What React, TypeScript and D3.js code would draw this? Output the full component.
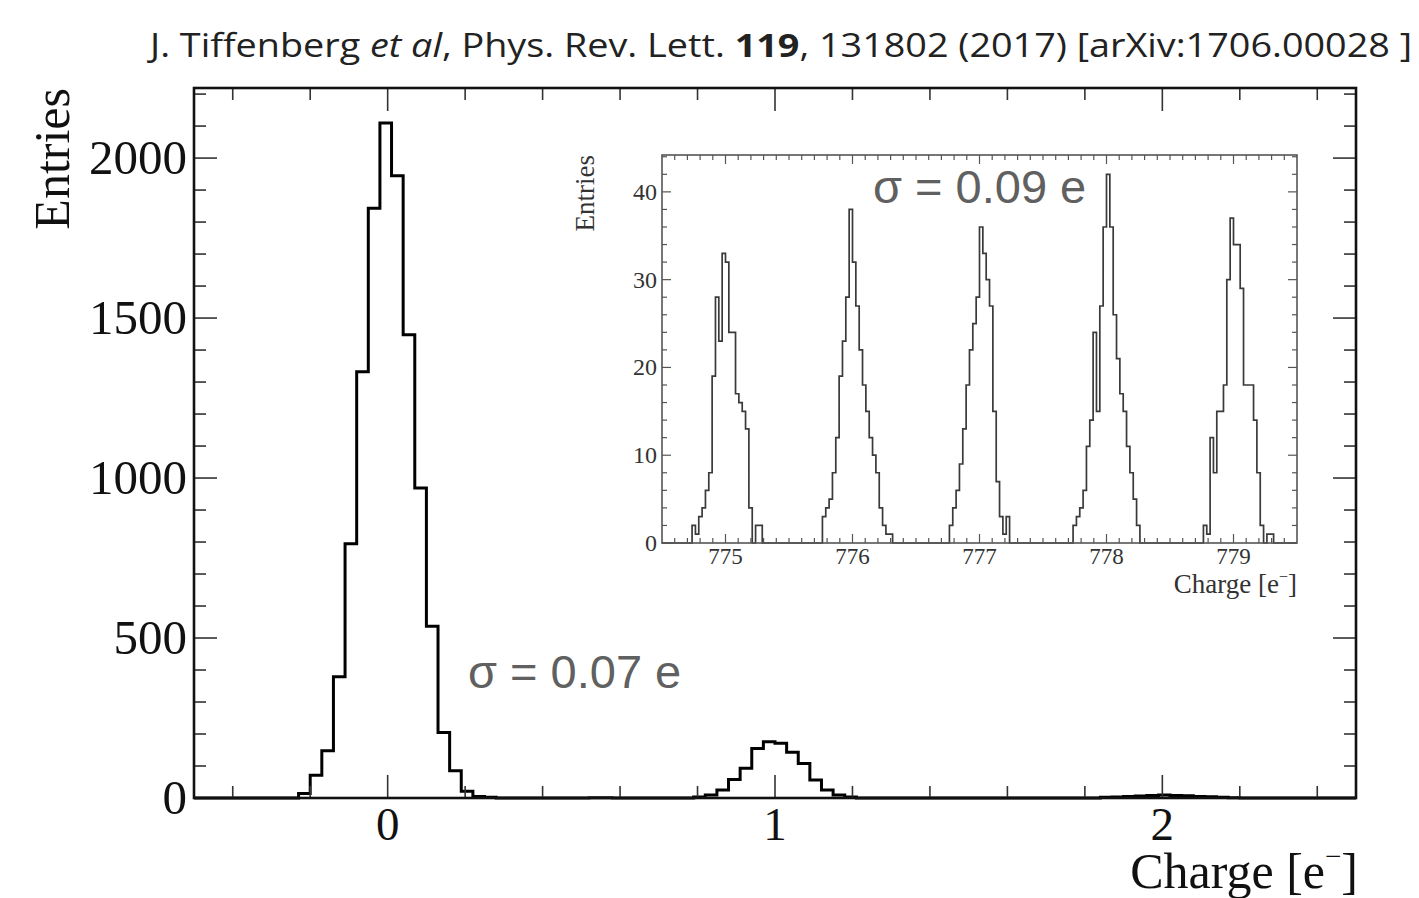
import React from "react";
import * as d3 from "d3";

// ---------- Main histogram data (100 bins over [-0.5, 2.5], width 0.03) ----------
const mainRange = [-0.5, 2.5];
const mainNBins = 100;
// peaks: start charge (left bin edge) and counts per bin
const peak0Start = -0.23;
const peak0Counts = [14, 71, 148, 379, 795, 1332, 1843, 2110, 1945, 1448, 969, 537, 205, 85, 21, 5, 2];
const peak1Start = 0.79;
const peak1Counts = [3, 9, 25, 58, 93, 155, 176, 171, 143, 108, 56, 25, 9, 3];
const peak2Start = 1.84;
const peak2Counts = [2, 3, 5, 6, 8, 9, 8, 7, 5, 4, 2, 1];
const strayStart = 0.52;
const strayCounts = [1, 1];

const mainXTicks = [0, 1, 2];
const mainYTicks = [0, 500, 1000, 1500, 2000];
const mainYMax = 2219;

// ---------- Inset histogram data (190 bins over [774.5, 779.5]) ----------
const insetRange = [774.5, 779.5];
const insetNBins = 190;
const insetPeak775Bin = 9;
const insetPeak775 = [2, 1, 3, 4, 6, 8, 19, 28, 23, 33, 32, 24, 24, 17, 16, 15, 13, 4, 0, 2, 2];
const insetPeak776Bin = 48;
const insetPeak776 = [3, 4, 5, 8, 12, 19, 23, 28, 38, 32, 27, 22, 18, 15, 12, 10, 8, 4, 2, 1, 1];
const insetPeak777Bin = 86;
const insetPeak777 = [2, 4, 6, 9, 13, 18, 22, 25, 28, 36, 33, 30, 27, 15, 7, 3, 1, 3];
const insetPeak778Bin = 123;
const insetPeak778 = [2, 3, 4, 6, 11, 14, 24, 15, 27, 36, 42, 36, 26, 21, 17, 15, 11, 8, 5, 2];
const insetPeak779Bin = 162;
const insetPeak779 = [2, 1, 12, 8, 15, 15, 18, 30, 37, 34, 34, 29, 18, 18, 18, 14, 8, 2, 0, 1, 1];

const insetXTicks = [775, 776, 777, 778, 779];
const insetYTicks = [0, 10, 20, 30, 40];
const insetYMax = 44.2;

const titleParts = [
  { t: "J. Tiffenberg ", s: "normal", w: "normal" },
  { t: "et al", s: "italic", w: "normal" },
  { t: ", Phys. Rev. Lett. ", s: "normal", w: "normal" },
  { t: "119", s: "normal", w: "bold" },
  { t: ", 131802 (2017) [arXiv:1706.00028 ]", s: "normal", w: "normal" },
];

const sigmaMain = "σ = 0.07 e";
const sigmaInset = "σ = 0.09 e";

function buildCounts(n: number, lo: number, w: number, parts: { start: number; counts: number[] }[]) {
  const arr = new Array(n).fill(0);
  parts.forEach((p) => {
    const k0 = Math.round((p.start - lo) / w);
    p.counts.forEach((c, i) => {
      if (k0 + i >= 0 && k0 + i < n) arr[k0 + i] = c;
    });
  });
  return arr;
}

function stepPath(counts: number[], lo: number, w: number, x: any, y: any) {
  const pts: [number, number][] = [[lo, 0]];
  counts.forEach((c, i) => pts.push([lo + i * w, c]));
  const hi = lo + counts.length * w;
  pts.push([hi, counts[counts.length - 1]]);
  pts.push([hi, 0]);
  return d3
    .line<[number, number]>()
    .x((d) => x(d[0]))
    .y((d) => y(d[1]))
    .curve(d3.curveStepAfter)(pts) as string;
}

function range(a: number, b: number, s: number) {
  const out: number[] = [];
  for (let i = 0; a + i * s <= b + 1e-9; i++) out.push(+(a + i * s).toFixed(6));
  return out;
}

export default function App() {
  const W = 1419, H = 898;
  // main frame
  const mL = 194, mR = 1356, mT = 88, mB = 798;
  const x = d3.scaleLinear().domain(mainRange).range([mL, mR]);
  const y = d3.scaleLinear().domain([0, mainYMax]).range([mB, mT]);
  const mw = (mainRange[1] - mainRange[0]) / mainNBins;
  const mainCounts = buildCounts(mainNBins, mainRange[0], mw, [
    { start: peak0Start, counts: peak0Counts },
    { start: peak1Start, counts: peak1Counts },
    { start: peak2Start, counts: peak2Counts },
    { start: strayStart, counts: strayCounts },
  ]);

  // inset frame
  const iL = 662, iR = 1297, iT = 155, iB = 543;
  const ix = d3.scaleLinear().domain(insetRange).range([iL, iR]);
  const iy = d3.scaleLinear().domain([0, insetYMax]).range([iB, iT]);
  const iw = (insetRange[1] - insetRange[0]) / insetNBins;
  const insetCounts = new Array(insetNBins).fill(0);
  [
    [insetPeak775Bin, insetPeak775],
    [insetPeak776Bin, insetPeak776],
    [insetPeak777Bin, insetPeak777],
    [insetPeak778Bin, insetPeak778],
    [insetPeak779Bin, insetPeak779],
  ].forEach(([k0, arr]: any) => arr.forEach((c: number, i: number) => (insetCounts[k0 + i] = c)));

  const mainXMinor = range(-0.4, 2.4, 0.2).filter((v) => Math.abs(v - Math.round(v)) > 1e-6);
  const mainYMinor = range(0, 2200, 100).filter((v) => v % 500 !== 0);
  const insetXMinor = range(774.6, 779.4, 0.1).filter((v) => Math.abs(v - Math.round(v)) > 1e-6);
  const insetYMinor = range(0, 44, 2).filter((v) => v % 10 !== 0);

  const serif = "'Liberation Serif', 'Times New Roman', serif";
  const sans = "'Liberation Sans', Arial, sans-serif";

  return (
    <svg width={W} height={H} style={{ position: "absolute", left: 0, top: 0, background: "#fff" }}>
      <rect x={0} y={0} width={W} height={H} fill="#fff" />
      {/* citation */}
      <text x={150} y={57} fontFamily={"'Open Sans', sans-serif"} fontSize={33} fill="#222" textLength={1262} lengthAdjust="spacingAndGlyphs">
        {titleParts.map((p, i) => (
          <tspan key={i} fontStyle={p.s} fontWeight={p.w}>{p.t}</tspan>
        ))}
      </text>

      {/* main histogram */}
      <path d={stepPath(mainCounts, mainRange[0], mw, x, y)} fill="none" stroke="#000" strokeWidth={3} />

      {/* main ticks */}
      <g stroke="#333" strokeWidth={1.6}>
        {mainXTicks.map((v) => (
          <g key={"mx" + v}>
            <line x1={x(v)} x2={x(v)} y1={mB} y2={mB - 23} />
            <line x1={x(v)} x2={x(v)} y1={mT} y2={mT + 23} />
          </g>
        ))}
        {mainXMinor.map((v) => (
          <g key={"mxm" + v}>
            <line x1={x(v)} x2={x(v)} y1={mB} y2={mB - 12} />
            <line x1={x(v)} x2={x(v)} y1={mT} y2={mT + 12} />
          </g>
        ))}
        {mainYTicks.map((v) => (
          <g key={"my" + v}>
            <line x1={mL} x2={mL + 23} y1={y(v)} y2={y(v)} />
            <line x1={mR} x2={mR - 23} y1={y(v)} y2={y(v)} />
          </g>
        ))}
        {mainYMinor.map((v) => (
          <g key={"mym" + v}>
            <line x1={mL} x2={mL + 12} y1={y(v)} y2={y(v)} />
            <line x1={mR} x2={mR - 12} y1={y(v)} y2={y(v)} />
          </g>
        ))}
      </g>
      <rect x={mL} y={mT} width={mR - mL} height={mB - mT} fill="none" stroke="#111" strokeWidth={2.6} />

      {/* main tick labels */}
      <g fontFamily={serif} fontSize={47} fill="#111">
        {mainXTicks.map((v) => (
          <text key={"lx" + v} x={x(v)} y={840} textAnchor="middle">{v}</text>
        ))}
      </g>
      <g fontFamily={serif} fontSize={49} fill="#111">
        {mainYTicks.map((v) => (
          <text key={"ly" + v} x={187} y={y(v) + 16} textAnchor="end">{v}</text>
        ))}
      </g>
      <text x={mR + 2} y={888} textAnchor="end" fontFamily={serif} fontSize={50} fill="#111">
        Charge [e<tspan fontSize={29} dy={-22}>−</tspan><tspan dy={22}>]</tspan>
      </text>
      <text transform={`translate(69, ${mT}) rotate(-90)`} textAnchor="end" fontFamily={serif} fontSize={50} fill="#111">
        Entries
      </text>

      {/* annotations */}
      <text x={468} y={688} fontFamily={sans} fontSize={47} fill="#606060">{sigmaMain}</text>

      {/* inset */}
      <rect x={iL} y={iT} width={iR - iL} height={iB - iT} fill="#fff" />
      <path d={stepPath(insetCounts, insetRange[0], iw, ix, iy)} fill="none" stroke="#3a3a3a" strokeWidth={1.7} />
      <g stroke="#555" strokeWidth={1.2}>
        {insetXTicks.map((v) => (
          <g key={"ix" + v}>
            <line x1={ix(v)} x2={ix(v)} y1={iB} y2={iB - 9} />
            <line x1={ix(v)} x2={ix(v)} y1={iT} y2={iT + 9} />
          </g>
        ))}
        {insetXMinor.map((v) => (
          <g key={"ixm" + v}>
            <line x1={ix(v)} x2={ix(v)} y1={iB} y2={iB - 5} />
            <line x1={ix(v)} x2={ix(v)} y1={iT} y2={iT + 5} />
          </g>
        ))}
        {insetYTicks.map((v) => (
          <g key={"iy" + v}>
            <line x1={iL} x2={iL + 9} y1={iy(v)} y2={iy(v)} />
            <line x1={iR} x2={iR - 9} y1={iy(v)} y2={iy(v)} />
          </g>
        ))}
        {insetYMinor.map((v) => (
          <g key={"iym" + v}>
            <line x1={iL} x2={iL + 5} y1={iy(v)} y2={iy(v)} />
            <line x1={iR} x2={iR - 5} y1={iy(v)} y2={iy(v)} />
          </g>
        ))}
      </g>
      <rect x={iL} y={iT} width={iR - iL} height={iB - iT} fill="none" stroke="#555" strokeWidth={1.6} />
      <g fontFamily={serif} fontSize={23} fill="#333">
        {insetXTicks.map((v) => (
          <text key={"ilx" + v} x={ix(v)} y={564} textAnchor="middle">{v}</text>
        ))}
      </g>
      <g fontFamily={serif} fontSize={24} fill="#333">
        {insetYTicks.map((v) => (
          <text key={"ily" + v} x={657} y={iy(v) + 8} textAnchor="end">{v}</text>
        ))}
      </g>
      <text x={iR} y={593} textAnchor="end" fontFamily={serif} fontSize={27} fill="#333">
        Charge [e<tspan fontSize={16} dy={-11}>−</tspan><tspan dy={11}>]</tspan>
      </text>
      <text transform={`translate(594, ${iT}) rotate(-90)`} textAnchor="end" fontFamily={serif} fontSize={27} fill="#333">
        Entries
      </text>
      <text x={873} y={203} fontFamily={sans} fontSize={47} fill="#606060">{sigmaInset}</text>
    </svg>
  );
}
